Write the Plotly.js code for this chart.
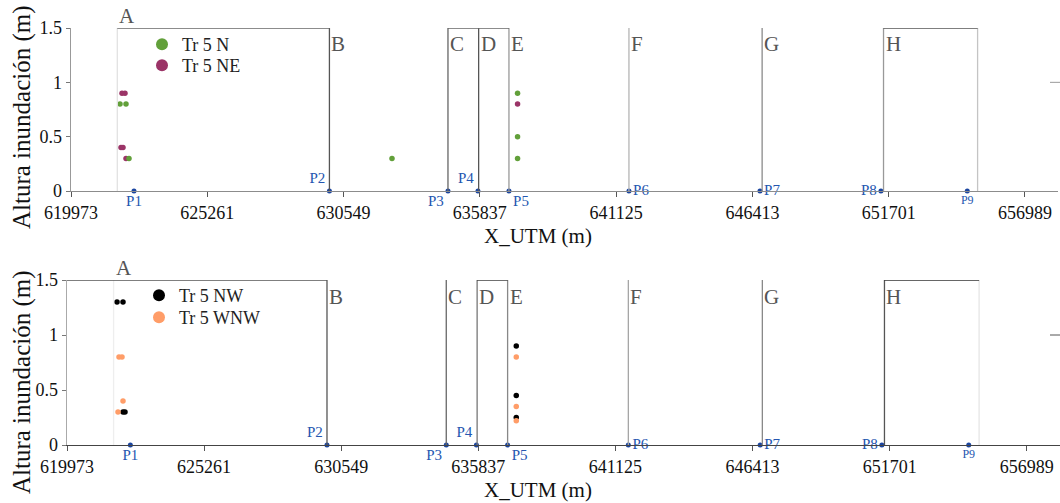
<!DOCTYPE html>
<html><head><meta charset="utf-8">
<script src="https://cdn.plot.ly/plotly-3.0.1.min.js"></script>
<style>body{margin:0;background:#fff}#chart{width:1060px;height:503px}</style>
</head><body><div id="chart"></div>
<script>
// ---- data ----
const xTicks = [619973, 625261, 630549, 635837, 641125, 646413, 651701, 656989];
const yTicks = [0, 0.5, 1, 1.5];
const zoneLabels = ['A', 'B', 'C', 'D', 'E', 'F', 'G', 'H'];
const zoneStart = [621770, 630000, 634600, 635790, 636966, 641622, 646790, 651500];
const zoneEnd = 655150;
const pointNames = ['P1', 'P2', 'P3', 'P4', 'P5', 'P6', 'P7', 'P8', 'P9'];
const pointX = [622417, 630000, 634600, 635763, 636966, 641622, 646706, 651400, 654750];
const pointY = [0, 0, 0, 0, 0, 0, 0, 0, 0];

const nX = [621874, 622107, 622223, 632428, 637300, 637300, 637300];
const nY = [0.8, 0.8, 0.3, 0.3, 0.9, 0.5, 0.3];
const neX = [621952, 622068, 621913, 621990, 622107, 637300];
const neY = [0.9, 0.9, 0.4, 0.4, 0.3, 0.8];
const nwX = [621902, 622133, 622133, 622210, 637300, 637300, 637300];
const nwY = [1.3, 1.3, 0.3, 0.3, 0.9, 0.45, 0.25];
const wnwX = [621979, 622094, 622133, 621940, 637300, 637300, 637300];
const wnwY = [0.8, 0.8, 0.4, 0.3, 0.8, 0.35, 0.22];

// ---- layout helpers ----
const W = 1060, H = 503;
const FONT = 'Liberation Serif';
const XR = [619973, 658270];
const px = v => v / W;
const py = v => (H - v) / H;

const labelPos = ['bottom center', 'top left', 'bottom left', 'top left', 'bottom right',
  'middle right', 'middle right', 'middle left', 'bottom center'];
const labelSize = [15, 15, 15, 15, 15, 15, 15, 15, 12];

function pTrace(xa, ya) {
  return {
    x: pointX, y: pointY, text: pointNames, xaxis: xa, yaxis: ya,
    type: 'scatter', mode: 'markers+text', showlegend: false, cliponaxis: false,
    marker: {size: 5, color: '#1a45a0'},
    textposition: labelPos,
    textfont: {family: FONT, size: labelSize, color: '#2456b0'},
    hoverinfo: 'skip'
  };
}
function sTrace(x, y, name, color, xa, ya, leg) {
  return {
    x: x, y: y, name: name, xaxis: xa, yaxis: ya, legend: leg,
    type: 'scatter', mode: 'markers', cliponaxis: false,
    marker: {size: 5.5, color: color}
  };
}

const traces = [
  pTrace('x', 'y'),
  sTrace(neX, neY, 'Tr 5 NE', '#9b3467', 'x', 'y', 'legend2'),
  sTrace(nX, nY, 'Tr 5 N', '#62a03a', 'x', 'y', 'legend'),
  pTrace('x2', 'y2'),
  sTrace(nwX, nwY, 'Tr 5 NW', '#000000', 'x2', 'y2', 'legend3'),
  sTrace(wnwX, wnwY, 'Tr 5 WNW', '#ff9d68', 'x2', 'y2', 'legend4')
];

const shapes = [];
const annotations = [];
function panel(xr, yr, labelTopPx, vColors, endColor, tops) {
  zoneStart.forEach((z, i) => {
    shapes.push({type: 'line', xref: xr, yref: yr, x0: z, x1: z, y0: 0, y1: 1.5,
      line: {color: vColors[i], width: 1.3}});
    const a = {xref: xr, x: z, text: zoneLabels[i], showarrow: false, xanchor: 'left', yanchor: 'middle',
      font: {family: FONT, size: 21, color: '#555'}};
    if (i === 0) { a.yref = 'paper'; a.y = py(labelTopPx); } else { a.yref = yr; a.y = 1.35; }
    annotations.push(a);
  });
  shapes.push({type: 'line', xref: xr, yref: yr, x0: zoneEnd, x1: zoneEnd, y0: 0, y1: 1.5,
    line: {color: endColor, width: 1.3}});
  tops.forEach(t => shapes.push({type: 'line', xref: xr, yref: yr, x0: t[0], x1: t[1], y0: 1.5, y1: 1.5,
    line: {color: t[2], width: 1.4}}));
}
panel('x', 'y', 16, ['#e2e2e2', '#555', '#666', '#555', '#999', '#b5b5b5', '#8a8a8a', '#999'], '#c4c4c4',
  [[zoneStart[0], zoneStart[1], '#666'], [zoneStart[2], zoneStart[4], '#666'], [zoneStart[7], zoneEnd, '#555']]);
panel('x2', 'y2', 268, ['#eeeeee', '#555', '#666', '#777', '#888', '#a5a5a5', '#888', '#555'], '#e6e6e6',
  [[XR[0], zoneStart[1], '#555'], [zoneStart[3], zoneStart[4], '#333'], [zoneStart[7], zoneEnd, '#333']]);

// small right-side ticks at y = 1
shapes.push({type: 'line', xref: 'paper', yref: 'y', x0: px(1050), x1: px(1060), y0: 1, y1: 1, line: {color: '#999', width: 1}});
shapes.push({type: 'line', xref: 'paper', yref: 'y2', x0: px(1050), x1: px(1060), y0: 1, y1: 1, line: {color: '#555', width: 1}});

// axis titles
const tFont = {family: FONT, size: 25, color: '#111'};
[[117], [382]].forEach(c => annotations.push({xref: 'paper', yref: 'paper', x: px(22), y: py(c[0]),
  xanchor: 'center', yanchor: 'middle', text: 'Altura inundación (m)', textangle: -90, showarrow: false, font: tFont}));
[[236], [490]].forEach(c => annotations.push({xref: 'paper', yref: 'paper', x: px(538), y: py(c[0]),
  xanchor: 'center', yanchor: 'middle', text: 'X_UTM (m)', showarrow: false,
  font: {family: FONT, size: 21, color: '#111'}}));

function xBase(dom, lineColor) {
  return {domain: dom, range: XR, tickmode: 'array', tickvals: xTicks, ticktext: xTicks.map(String),
    showgrid: false, zeroline: false, showline: true, linecolor: lineColor, linewidth: 1.3,
    ticks: 'outside', ticklen: 5, tickcolor: '#555',
    tickfont: {family: FONT, size: 18, color: '#111'}};
}
function xTop(over, anchor) {
  return {overlaying: over, anchor: anchor, side: 'top', range: XR, tickmode: 'linear',
    tick0: XR[0], dtick: 2000, showticklabels: false, ticks: 'outside', ticklen: 5,
    tickcolor: '#555', showline: true, linecolor: '#9a9a9a', linewidth: 1.3, showgrid: false, zeroline: false};
}
function yBase(dom, lineColor) {
  return {domain: dom, range: [0, 1.5], tickmode: 'array', tickvals: yTicks,
    showgrid: false, zeroline: false, showline: true, linecolor: lineColor, linewidth: 1.3,
    ticks: 'outside', ticklen: 4, tickcolor: '#777',
    tickfont: {family: FONT, size: 18, color: '#111'}};
}
function leg(xc, yc) {
  return {x: px(xc - 20), y: py(yc - 16), xanchor: 'left', yanchor: 'top', bgcolor: 'rgba(0,0,0,0)',
    font: {family: FONT, size: 18, color: '#222'}, itemsizing: 'constant'};
}

const layout = {
  width: W, height: H, margin: {l: 0, r: 0, t: 0, b: 0},
  paper_bgcolor: '#fff', plot_bgcolor: 'rgba(0,0,0,0)',
  xaxis: Object.assign(xBase([px(71), px(1058)], '#8c8c8c'), {anchor: 'y'}),
  yaxis: Object.assign(yBase([py(191), py(28)], '#999'), {anchor: 'x'}),
  xaxis2: Object.assign(xBase([px(67), px(1060)], '#444'), {anchor: 'y2'}),
  yaxis2: Object.assign(yBase([py(445), py(280)], '#aaa'), {anchor: 'x2'}),
  xaxis3: xTop('x', 'y'),
  xaxis4: xTop('x2', 'y2'),
  legend: leg(162, 42),
  legend2: leg(162, 63),
  legend3: leg(159, 293),
  legend4: leg(159, 315),
  shapes: shapes, annotations: annotations, showlegend: true
};

Plotly.newPlot('chart', traces, layout, {displayModeBar: false, staticPlot: true});
</script>
</body></html>
